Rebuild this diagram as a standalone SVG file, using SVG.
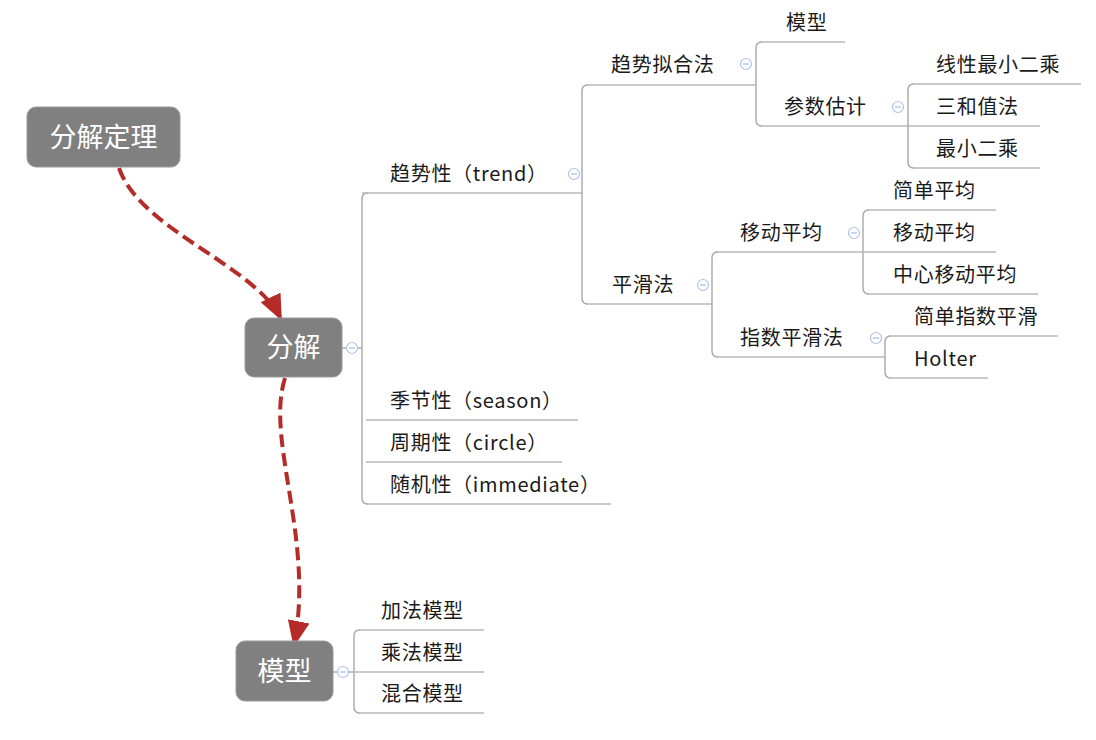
<svg xmlns="http://www.w3.org/2000/svg" width="1096" height="740" viewBox="0 0 1096 740">
<style>
.node rect{fill:#808080;stroke:#9a9a9a;stroke-width:1}
.node text{fill:#ffffff;font-family:"Noto Sans CJK SC","Noto Sans",sans-serif;font-size:27px;text-anchor:middle}
.lbl{fill:#1a1a1a;font-family:"Noto Sans CJK SC","Noto Sans",sans-serif;font-size:20px;letter-spacing:0.7px}
.ln{fill:none;stroke:#b8b8b8;stroke-width:1.6}
.vl{fill:none;stroke:#a8a8a8;stroke-width:1.4}
.col circle{fill:#ffffff;stroke:#aec4ee;stroke-width:1.2}
.col line{stroke:#aec4ee;stroke-width:1.4}
.rel{fill:none;stroke:#b52b27;stroke-width:4;stroke-dasharray:13 6}
</style>
<defs>
<marker id="ah" markerUnits="userSpaceOnUse" markerWidth="26" markerHeight="26" viewBox="0 0 26 26" refX="24" refY="13" orient="auto">
<path d="M0,2 L26,13 L0,24 Z" fill="#b52b27"/>
</marker>
</defs>

<g id="connectors">
<!-- 分解 -> children -->
<path class="vl" d="M342,348 H362"/>
<path class="vl" d="M362,348 V199 Q362,193 368,193"/>
<path class="vl" d="M362,348 V498 Q362,504 368,504"/>
<path class="ln" d="M362,193 H582"/>
<path class="ln" d="M366,420 H578"/>
<path class="ln" d="M366,462 H562"/>
<path class="ln" d="M366,504 H611"/>
<!-- 趋势性 children -->
<path class="vl" d="M582,193 V91 Q582,85 588,85"/>
<path class="vl" d="M582,193 V298 Q582,304 588,304"/>
<path class="ln" d="M586,85 H756"/>
<path class="ln" d="M586,304 H712"/>
<!-- 趋势拟合法 children -->
<path class="vl" d="M756,85 V48 Q756,42 762,42"/>
<path class="vl" d="M756,85 V120 Q756,126 762,126"/>
<path class="ln" d="M760,42 H845"/>
<path class="ln" d="M760,126 H908"/>
<!-- 参数估计 children -->
<path class="vl" d="M908,126 V90 Q908,84 914,84"/>
<path class="vl" d="M908,126 V162 Q908,168 914,168"/>
<path class="ln" d="M912,84 H1081"/>
<path class="ln" d="M908,126 H1040"/>
<path class="ln" d="M912,168 H1040"/>
<!-- 平滑法 children -->
<path class="vl" d="M712,304 V258 Q712,252 718,252"/>
<path class="vl" d="M712,304 V351 Q712,357 718,357"/>
<path class="ln" d="M716,252 H863"/>
<path class="ln" d="M716,357 H885"/>
<!-- 移动平均 children -->
<path class="vl" d="M863,252 V216 Q863,210 869,210"/>
<path class="vl" d="M863,252 V288 Q863,294 869,294"/>
<path class="ln" d="M867,210 H996"/>
<path class="ln" d="M863,252 H996"/>
<path class="ln" d="M867,294 H1038"/>
<!-- 指数平滑法 children -->
<path class="vl" d="M885,357 V342 Q885,336 891,336"/>
<path class="vl" d="M885,357 V372 Q885,378 891,378"/>
<path class="ln" d="M889,336 H1058"/>
<path class="ln" d="M889,378 H988"/>
<!-- 模型 children -->
<path class="vl" d="M333,672 H354"/>
<path class="vl" d="M354,672 V636 Q354,630 360,630"/>
<path class="vl" d="M354,672 V707 Q354,713 360,713"/>
<path class="ln" d="M358,630 H484"/>
<path class="ln" d="M354,672 H484"/>
<path class="ln" d="M358,713 H484"/>
<!-- relationship arrows -->
<path class="rel" d="M119,168 C140,230 255,265 281,319" marker-end="url(#ah)"/>
<path class="rel" d="M285,378 C265,440 315,540 294,645" marker-end="url(#ah)"/>
</g>

<g id="collapse" class="col">
<g><circle cx="352" cy="348" r="5.5"/><line x1="349" y1="348" x2="355" y2="348"/></g>
<g><circle cx="574" cy="174" r="5.5"/><line x1="571" y1="174" x2="577" y2="174"/></g>
<g><circle cx="746" cy="64" r="5.5"/><line x1="743" y1="64" x2="749" y2="64"/></g>
<g><circle cx="898" cy="107" r="5.5"/><line x1="895" y1="107" x2="901" y2="107"/></g>
<g><circle cx="703" cy="285" r="5.5"/><line x1="700" y1="285" x2="706" y2="285"/></g>
<g><circle cx="854" cy="233" r="5.5"/><line x1="851" y1="233" x2="857" y2="233"/></g>
<g><circle cx="876" cy="338" r="5.5"/><line x1="873" y1="338" x2="879" y2="338"/></g>
<g><circle cx="343" cy="672" r="5.5"/><line x1="340" y1="672" x2="346" y2="672"/></g>
</g>

<g id="n-dingli" class="node"><rect x="27" y="107" width="153" height="60" rx="9"/><text x="103.5" y="147">分解定理</text></g>
<g id="n-fenjie" class="node"><rect x="245" y="318" width="97" height="59" rx="9"/><text x="293.5" y="357">分解</text></g>
<g id="n-moxing" class="node"><rect x="236" y="641" width="97" height="60" rx="9"/><text x="284.5" y="681">模型</text></g>

<g id="n-trend"><text class="lbl" x="390" y="181">趋势性（trend）</text></g>
<g id="n-season"><text class="lbl" x="390" y="408">季节性（season）</text></g>
<g id="n-circle"><text class="lbl" x="390" y="450">周期性（circle）</text></g>
<g id="n-immediate"><text class="lbl" x="390" y="492">随机性（immediate）</text></g>
<g id="n-nihe"><text class="lbl" x="611" y="72">趋势拟合法</text></g>
<g id="n-pinghua"><text class="lbl" x="612" y="292">平滑法</text></g>
<g id="n-mx"><text class="lbl" x="786" y="30">模型</text></g>
<g id="n-canshu"><text class="lbl" x="784" y="114">参数估计</text></g>
<g id="n-xianxing"><text class="lbl" x="936" y="72">线性最小二乘</text></g>
<g id="n-sanhe"><text class="lbl" x="936" y="114">三和值法</text></g>
<g id="n-zuixiao"><text class="lbl" x="936" y="156">最小二乘</text></g>
<g id="n-yidong"><text class="lbl" x="740" y="240">移动平均</text></g>
<g id="n-zhishu"><text class="lbl" x="740" y="345">指数平滑法</text></g>
<g id="n-jiandan"><text class="lbl" x="893" y="198">简单平均</text></g>
<g id="n-yidong2"><text class="lbl" x="893" y="240">移动平均</text></g>
<g id="n-zhongxin"><text class="lbl" x="893" y="282">中心移动平均</text></g>
<g id="n-jdzs"><text class="lbl" x="914" y="324">简单指数平滑</text></g>
<g id="n-holter"><text class="lbl" x="914" y="366">Holter</text></g>
<g id="n-jiafa"><text class="lbl" x="381" y="618">加法模型</text></g>
<g id="n-chengfa"><text class="lbl" x="381" y="660">乘法模型</text></g>
<g id="n-hunhe"><text class="lbl" x="381" y="701">混合模型</text></g>
</svg>
